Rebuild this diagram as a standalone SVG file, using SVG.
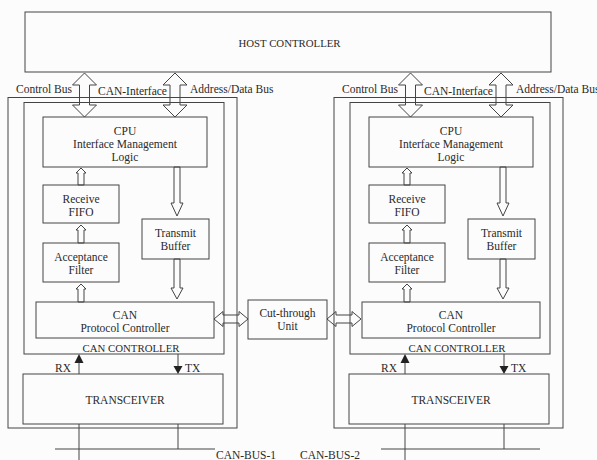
<svg xmlns="http://www.w3.org/2000/svg" width="597" height="460" viewBox="0 0 597 460">
<style>
.box{fill:none;stroke:#444;stroke-width:1}
.ln{fill:none;stroke:#444;stroke-width:1}
.arr{fill:none;stroke:#444;stroke-width:1;stroke-linejoin:miter}
.head{fill:#222;stroke:none}
text{font-family:"Liberation Serif","Times New Roman",serif;font-size:11.5px;fill:#2a2a2a}
.c{text-anchor:middle}
.cap{font-size:10.8px}
</style>
<rect x="0" y="0" width="597" height="460" fill="#fcfcfc"/>

<g id="host">
<rect class="box" x="25" y="12" width="526" height="60"/>
<text class="c cap" x="289.5" y="46.5">HOST CONTROLLER</text>
</g>

<g id="cut-through">
<rect class="box" x="248" y="300" width="79" height="39"/>
<text class="c" x="287.5" y="317">Cut-through</text>
<text class="c" x="287.5" y="330">Unit</text>
</g>

<g id="unit1">
<g id="outer1"><rect class="box" x="8" y="97.5" width="229" height="330.5"/></g>
<g id="cancontroller1"><rect class="box" x="24" y="102.5" width="200" height="251.5"/>
<text class="c cap" x="131" y="352">CAN CONTROLLER</text></g>
<g id="cpu1"><rect class="box" x="43" y="117" width="164" height="50"/>
<text class="c" x="125" y="135">CPU</text>
<text class="c" x="125" y="148">Interface Management</text>
<text class="c" x="125" y="161">Logic</text></g>
<g id="fifo1"><rect class="box" x="43" y="185" width="76" height="38"/>
<text class="c" x="81" y="203">Receive</text>
<text class="c" x="81" y="216">FIFO</text></g>
<g id="filter1"><rect class="box" x="43" y="243" width="76" height="39"/>
<text class="c" x="81" y="261">Acceptance</text>
<text class="c" x="81" y="274">Filter</text></g>
<g id="txbuf1"><rect class="box" x="142" y="219" width="67" height="40"/>
<text class="c" x="175.5" y="237">Transmit</text>
<text class="c" x="175.5" y="250">Buffer</text></g>
<g id="protocol1"><rect class="box" x="36" y="302" width="178" height="36"/>
<text class="c" x="125" y="319">CAN</text>
<text class="c" x="125" y="332">Protocol Controller</text></g>
<g id="transceiver1"><rect class="box" x="23" y="374" width="200" height="50"/>
<text class="c" x="125" y="404">TRANSCEIVER</text></g>
<g id="labels1">
<text x="16" y="93">Control Bus</text>
<text x="98" y="95">CAN-Interface</text>
<text x="190" y="93">Address/Data Bus</text>
<text x="55" y="372">RX</text>
<text x="185" y="372">TX</text>
<text x="216" y="459">CAN-BUS-1</text>
</g>
</g>

<g id="unit2" transform="translate(326,0)">
<g id="outer2"><rect class="box" x="8" y="97.5" width="229" height="330.5"/></g>
<g id="cancontroller2"><rect class="box" x="24" y="102.5" width="200" height="251.5"/>
<text class="c cap" x="131" y="352">CAN CONTROLLER</text></g>
<g id="cpu2"><rect class="box" x="43" y="117" width="164" height="50"/>
<text class="c" x="125" y="135">CPU</text>
<text class="c" x="125" y="148">Interface Management</text>
<text class="c" x="125" y="161">Logic</text></g>
<g id="fifo2"><rect class="box" x="43" y="185" width="76" height="38"/>
<text class="c" x="81" y="203">Receive</text>
<text class="c" x="81" y="216">FIFO</text></g>
<g id="filter2"><rect class="box" x="43" y="243" width="76" height="39"/>
<text class="c" x="81" y="261">Acceptance</text>
<text class="c" x="81" y="274">Filter</text></g>
<g id="txbuf2"><rect class="box" x="142" y="219" width="67" height="40"/>
<text class="c" x="175.5" y="237">Transmit</text>
<text class="c" x="175.5" y="250">Buffer</text></g>
<g id="protocol2"><rect class="box" x="36" y="302" width="178" height="36"/>
<text class="c" x="125" y="319">CAN</text>
<text class="c" x="125" y="332">Protocol Controller</text></g>
<g id="transceiver2"><rect class="box" x="23" y="374" width="200" height="50"/>
<text class="c" x="125" y="404">TRANSCEIVER</text></g>
<g id="labels2">
<text x="16" y="93">Control Bus</text>
<text x="98" y="95">CAN-Interface</text>
<text x="190" y="93">Address/Data Bus</text>
<text x="55" y="372">RX</text>
<text x="185" y="372">TX</text>
<text x="-26" y="459">CAN-BUS-2</text>
</g>
</g>

<g id="connectors">
<g id="conn1">
<path class="arr" d="M84.5,73 L96.5,85 L89.5,85 L89.5,105 L96.5,105 L84.5,117 L72.5,105 L79.5,105 L79.5,85 L72.5,85 Z"/>
<path class="arr" d="M175,73 L187,85 L180,85 L180,105 L187,105 L175,117 L163,105 L170,105 L170,85 L163,85 Z"/>
<path class="arr" d="M81,168 L86,173 L84,173 L84,185 L78,185 L78,173 L76,173 Z"/>
<path class="arr" d="M81,225 L86,230 L84,230 L84,243 L78,243 L78,230 L76,230 Z"/>
<path class="arr" d="M81,284 L86,289 L84,289 L84,302 L78,302 L78,289 L76,289 Z"/>
<path class="arr" d="M174,167 L180,167 L180,203 L183,203 L177,216 L171,203 L174,203 Z"/>
<path class="arr" d="M174,259 L180,259 L180,288 L183,288 L177,299 L171,288 L174,288 Z"/>
<line class="ln" x1="79" y1="374" x2="79" y2="362"/>
<polygon class="head" points="79,354 83.5,363 74.5,363"/>
<line class="ln" x1="178" y1="354" x2="178" y2="366"/>
<polygon class="head" points="173.5,366 182.5,366 178,374"/>
<line class="ln" x1="79" y1="424" x2="79" y2="460"/>
<line class="ln" x1="178" y1="424" x2="178" y2="449"/>
<line class="ln" x1="55" y1="449" x2="215" y2="449"/>
</g>
<g id="conn2" transform="translate(326,0)">
<path class="arr" d="M84.5,73 L96.5,85 L89.5,85 L89.5,105 L96.5,105 L84.5,117 L72.5,105 L79.5,105 L79.5,85 L72.5,85 Z"/>
<path class="arr" d="M175,73 L187,85 L180,85 L180,105 L187,105 L175,117 L163,105 L170,105 L170,85 L163,85 Z"/>
<path class="arr" d="M81,168 L86,173 L84,173 L84,185 L78,185 L78,173 L76,173 Z"/>
<path class="arr" d="M81,225 L86,230 L84,230 L84,243 L78,243 L78,230 L76,230 Z"/>
<path class="arr" d="M81,284 L86,289 L84,289 L84,302 L78,302 L78,289 L76,289 Z"/>
<path class="arr" d="M174,167 L180,167 L180,203 L183,203 L177,216 L171,203 L174,203 Z"/>
<path class="arr" d="M174,259 L180,259 L180,288 L183,288 L177,299 L171,288 L174,288 Z"/>
<line class="ln" x1="79" y1="374" x2="79" y2="362"/>
<polygon class="head" points="79,354 83.5,363 74.5,363"/>
<line class="ln" x1="178" y1="354" x2="178" y2="366"/>
<polygon class="head" points="173.5,366 182.5,366 178,374"/>
<line class="ln" x1="79" y1="424" x2="79" y2="460"/>
<line class="ln" x1="178" y1="424" x2="178" y2="449"/>
<line class="ln" x1="55" y1="449" x2="214" y2="449"/>
</g>
<path class="arr" d="M214,319 L223,311.5 L223,315 L239,315 L239,311.5 L248,319 L239,326.5 L239,323 L223,323 L223,326.5 Z"/>
<path class="arr" d="M327,319 L336,311.5 L336,315 L352,315 L352,311.5 L361,319 L352,326.5 L352,323 L336,323 L336,326.5 Z"/>
</g>
</svg>
